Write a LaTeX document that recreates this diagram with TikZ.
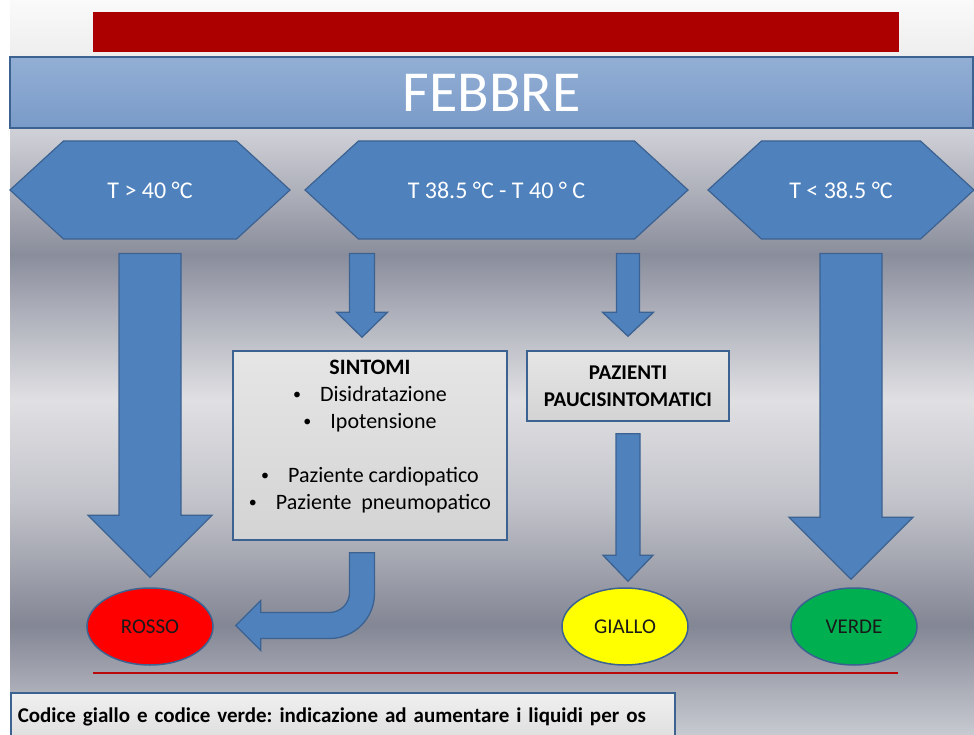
\documentclass[tikz,border=0pt]{standalone}
\usepackage{fontspec}
\setmainfont{Carlito}
\usepackage{tikz}
\usetikzlibrary{positioning,calc,shapes.geometric,shapes.symbols}
\definecolor{slidered}{RGB}{172,0,0}
\definecolor{linered}{RGB}{185,10,10}
\definecolor{officeblue}{RGB}{79,129,189}
\definecolor{blueedge}{RGB}{60,98,145}
\definecolor{bartop}{RGB}{146,174,212}
\definecolor{barbot}{RGB}{122,155,200}
\definecolor{rossoc}{RGB}{255,0,0}
\definecolor{gialloc}{RGB}{255,255,0}
\definecolor{verdec}{RGB}{0,176,80}
\definecolor{bgA}{HTML}{FAFAFA}
\definecolor{bgB}{HTML}{EEEEEE}
\definecolor{bgC}{HTML}{CDCED5}
\definecolor{bgD}{HTML}{8A8D9B}
\definecolor{bgE}{HTML}{A6A9B4}
\definecolor{bgF}{HTML}{E0E0E3}
\definecolor{bgG}{HTML}{C3C4CB}
\definecolor{bgH}{HTML}{838694}
\definecolor{bgI}{HTML}{C8CAD1}
\tikzset{
  titlebar/.style={draw=blueedge,line width=1.5pt,top color=bartop,bottom color=barbot,text=white,
    font=\fontsize{58}{62}\selectfont,minimum width=963pt,minimum height=71pt,inner sep=0pt},
  hexa/.style={signal,signal to=east and west,signal pointer angle=85,fill=officeblue,draw=blueedge,
    line width=1.2pt,text=white,font=\fontsize{24}{28}\selectfont,minimum height=98pt,inner sep=0pt},
  infobox/.style={draw=blueedge,line width=1.5pt,top color=black!10,bottom color=black!17,align=center},
  listtxt/.style={align=center,font=\fontsize{22}{27}\selectfont},
  codice/.style={ellipse,draw=blueedge,line width=1.5pt,minimum width=126pt,minimum height=77pt,
    font=\fontsize{21}{25}\selectfont,text=black!90},
  notebox/.style={draw=blueedge,line width=1.5pt,top color=black!6,bottom color=black!13,anchor=north west,
    minimum height=48pt,text width=650pt,align=left,inner xsep=7pt,
    font=\bfseries\fontsize{21}{25}\selectfont\frenchspacing},
  fatarr/.style={fill=officeblue,draw=blueedge,line width=1.3pt,line join=miter},
}
% punto elenco piccolo
\newcommand{\pallino}{\raisebox{2pt}{\fontsize{16}{16}\selectfont\textbullet}\hspace{19pt}}
% freccia piena verso il basso: inizio, punta, mezzo gambo, mezza testa, lunghezza testa
\newcommand{\fatarrow}[5]{%
  \draw[fatarr] let \p1=#1, \p2=#2 in
    (\x1-#3,\y1) -- (\x1+#3,\y1) -- (\x1+#3,\y2+#5) -- (\x1+#4,\y2+#5)
    -- (\x1,\y2) -- (\x1-#4,\y2+#5) -- (\x1-#3,\y2+#5) -- cycle;}

\begin{document}
\begin{tikzpicture}[x=1pt,y=-1pt]
  \useasboundingbox (0,0) rectangle (974,735);
  % sfondo
  \fill[white] (0,0) rectangle (974,735);
  \shade[top color=bgA,bottom color=bgB] (10,0) rectangle (974,55);
  \shade[top color=bgB,bottom color=bgC] (10,55) rectangle (974,135);
  \shade[top color=bgC,bottom color=bgD] (10,135) rectangle (974,255);
  \shade[top color=bgD,bottom color=bgE] (10,255) rectangle (974,300);
  \shade[top color=bgE,bottom color=bgF] (10,300) rectangle (974,400);
  \shade[top color=bgF,bottom color=bgG] (10,400) rectangle (974,500);
  \shade[top color=bgG,bottom color=bgH] (10,500) rectangle (974,625);
  \shade[top color=bgH,bottom color=bgI] (10,625) rectangle (974,735);
  \fill[slidered] (93,12) rectangle (899,52);
  \node[titlebar] (febbre) at (491.5,92.5) {FEBBRE};

  \node[hexa,minimum width=280pt] (hot) at (150,190) {T > 40 °C};
  \node[hexa,minimum width=383pt] (mid) at (496.5,190) {T 38.5 °C - T 40 ° C};
  \node[hexa,minimum width=266pt] (cold) at (841,190) {T < 38.5 °C};

  \node[infobox,minimum width=274pt,minimum height=189pt] (sintomi) at (370,445.5) {};
  \node[listtxt,anchor=north] (sintomitxt) at ($(sintomi.north)+(0,6)$)
    {\textbf{SINTOMI}\\
     \pallino Disidratazione\\
     \pallino Ipotensione\\[27pt]
     \pallino Paziente cardiopatico\\
     \pallino Paziente\ \ pneumopatico};
  \node[infobox,font=\bfseries\fontsize{21}{27}\selectfont,minimum width=202pt,minimum height=70pt]
    (pazienti) at (628,386) {PAZIENTI\\PAUCISINTOMATICI};

  \node[codice,fill=rossoc] (rosso) at (150,626.5) {ROSSO};
  \node[codice,fill=gialloc] (giallo) at (625,626.5) {GIALLO};
  \node[codice,fill=verdec] (verde) at (854,626.5) {VERDE};
  \draw[linered,line width=2pt] (93,673) -- (898,673);
  \node[notebox] (nota) at (10,692) {Codice giallo e codice verde: indicazione ad aumentare i liquidi per os};

  % frecce
  \fatarrow{($(hot.south)+(0,14)$)}{($(rosso.north)+(0,-10)$)}{31pt}{62pt}{62pt}
  \fatarrow{($(sintomi.north |- mid.south)+(-8,14)$)}{($(sintomi.north)+(-8,-13)$)}{12.5pt}{25.5pt}{25pt}
  \fatarrow{($(pazienti.north |- mid.south)+(0,14)$)}{($(pazienti.north)+(0,-14)$)}{11.5pt}{25.5pt}{24pt}
  \fatarrow{($(verde.north |- cold.south)+(-3,14)$)}{($(verde.north)+(0,-8)$)}{31pt}{62pt}{62pt}
  \fatarrow{($(pazienti.south)+(0,12)$)}{($(giallo.north)+(0,-6)$)}{12pt}{25pt}{26pt}
  \draw[fatarr] let \p1=($(sintomi.south)+(-8,12)$), \p2=($(rosso.east)+(22,-1)$) in
    (\x1-12.5pt,\y1) -- (\x1+12.5pt,\y1) -- (\x1+12.5pt,\y2+32pt)
    arc[start angle=0,end angle=-90,radius=45pt] -- (\x2+25pt,\y2-13pt) -- (\x2+25pt,\y2-25pt)
    -- (\x2,\y2) -- (\x2+25pt,\y2+25pt) -- (\x2+25pt,\y2+13pt) -- (\x1-32.5pt,\y2+13pt)
    arc[start angle=-90,end angle=0,radius=20pt] -- cycle;
\end{tikzpicture}
\end{document}
